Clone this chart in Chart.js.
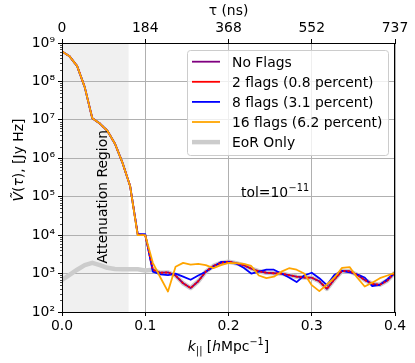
<!DOCTYPE html>
<html>
<head>
<meta charset="utf-8">
<script src="https://cdn.jsdelivr.net/npm/chart.js@4.4.1/dist/chart.umd.min.js"></script>
<style>
  html, body { margin: 0; padding: 0; background: #fff; }
  #wrap { width: 415px; height: 363px; }
</style>
</head>
<body>
<div id="wrap"><canvas id="chartDelay" width="415" height="363"></canvas></div>
<script>
'use strict';

// k_parallel sample points [h/Mpc]
var kPar = [0, 0.0091, 0.0182, 0.0273, 0.0364, 0.0455, 0.0545, 0.0636, 0.0727, 0.0818,
  0.0909, 0.1, 0.1091, 0.1182, 0.1273, 0.1364, 0.1455, 0.1545, 0.1636, 0.1727,
  0.1818, 0.1909, 0.2, 0.2091, 0.2182, 0.2273, 0.2364, 0.2455, 0.2545, 0.2636,
  0.2727, 0.2818, 0.2909, 0.3, 0.3091, 0.3182, 0.3273, 0.3364, 0.3455, 0.3545,
  0.3636, 0.3727, 0.3818, 0.3909, 0.4];

var kTicks = [0, 0.1, 0.2, 0.3, 0.4];
var kTickLabels = ['0.0', '0.1', '0.2', '0.3', '0.4'];
var tauTickLabels = ['0', '184', '368', '552', '737'];
var yTicks = [1e2, 1e3, 1e4, 1e5, 1e6, 1e7, 1e8, 1e9];
var yTickLabels = ['10²', '10³', '10⁴', '10⁵', '10⁶', '10⁷', '10⁸', '10⁹'];

var noFlags = [6.0e8, 4.5e8, 2.5e8, 7.1e7, 1.1e7, 8.0e6, 5.2e6, 2.4e6, 7.6e5, 1.9e5,
  1.05e4, 1.0e4, 1260, 1050, 1070, 890, 560, 420, 630, 1120,
  1580, 1900, 2040, 1860, 1660, 1350, 1150, 1050, 1020, 1000,
  910, 830, 790, 780, 630, 400, 710, 1170, 1150, 930,
  680, 540, 510, 660, 1070];
var flags2 = [6.0e8, 4.5e8, 2.5e8, 7.1e7, 1.1e7, 8.0e6, 5.2e6, 2.4e6, 7.6e5, 1.9e5,
  1.05e4, 1.0e4, 1260, 1050, 1070, 890, 560, 420, 630, 1120,
  1580, 1900, 2040, 1860, 1660, 1350, 1150, 1050, 1020, 1000,
  910, 830, 790, 780, 630, 400, 710, 1170, 1150, 930,
  680, 540, 510, 660, 1070];
var flags8 = [6.0e8, 4.5e8, 2.5e8, 7.1e7, 1.1e7, 8.0e6, 5.2e6, 2.4e6, 7.6e5, 1.9e5,
  1.08e4, 1.06e4, 1120, 950, 910, 1000, 830, 690, 890, 1120,
  1480, 2000, 2000, 1820, 1410, 1000, 1120, 1260, 1260, 1000,
  790, 600, 890, 1050, 760, 500, 930, 1170, 1070, 950,
  790, 470, 510, 710, 1050];
var flags16 = [6.0e8, 4.5e8, 2.5e8, 7.1e7, 1.1e7, 8.0e6, 5.2e6, 2.4e6, 7.6e5, 1.9e5,
  1.0e4, 1.0e4, 1900, 790, 340, 1510, 1900, 1700, 1780, 1660,
  1380, 1660, 1900, 1860, 1780, 1580, 890, 760, 830, 1120,
  1380, 1260, 1000, 500, 350, 520, 790, 1410, 1480, 790,
  460, 580, 760, 890, 1050];
var eorOnly = [680, 930, 1260, 1660, 1900, 1660, 1410, 1320, 1290, 1290,
  1290, 1200, 1260, 1050, 1070, 890, 560, 420, 630, 1120,
  1580, 1900, 2040, 1860, 1660, 1350, 1150, 1050, 1020, 1000,
  910, 830, 790, 780, 630, 400, 710, 1170, 1150, 930,
  680, 540, 510, 660, 1070];

var attenuationEdge = 0.08;

var FS = 13.9;
var FAM = '"DejaVu Sans"';
var fNorm = FS + 'px ' + FAM;
var fItal = 'italic ' + FS + 'px ' + FAM;
var fSmall = (FS * 0.7).toFixed(1) + 'px ' + FAM;

Chart.defaults.font.family = "'DejaVu Sans', sans-serif";
Chart.defaults.font.size = FS;
Chart.defaults.color = '#000';

function points(vals) {
  return kPar.map(function (k, i) { return { x: k, y: vals[i] }; });
}

function setTicks(list) {
  return function (scale) {
    scale.ticks = list.map(function (v) { return { value: v }; });
  };
}

function drawRuns(ctx, runs, cx, baseY) {
  var w = 0;
  runs.forEach(function (r) { ctx.font = r.f; w += ctx.measureText(r.t).width; });
  var x = cx - w / 2;
  runs.forEach(function (r) {
    ctx.font = r.f;
    ctx.fillText(r.t, x, baseY + (r.dy || 0));
    x += ctx.measureText(r.t).width;
  });
}

var decor = {
  id: 'decor',
  beforeDraw: function (chart) {
    var a = chart.chartArea;
    var ctx = chart.ctx;
    var xr = chart.scales.x.getPixelForValue(attenuationEdge);
    ctx.save();
    ctx.fillStyle = '#f0f0f0';
    ctx.fillRect(a.left, a.top, xr - a.left, a.bottom - a.top);
    ctx.restore();
  },
  afterDatasetsDraw: function (chart) {
    var a = chart.chartArea;
    var ctx = chart.ctx;
    var xs = chart.scales.x;
    var ys = chart.scales.y;
    ctx.save();

    // frame
    ctx.strokeStyle = '#000';
    ctx.lineWidth = 1;
    ctx.strokeRect(a.left + 0.5, a.top + 0.5, a.right - a.left - 1, a.bottom - a.top);

    // minor log ticks on the left spine
    ctx.lineWidth = 0.7;
    for (var d = 2; d < 9; d++) {
      for (var m = 2; m <= 9; m++) {
        var py = Math.round(ys.getPixelForValue(m * Math.pow(10, d))) + 0.5;
        ctx.beginPath();
        ctx.moveTo(a.left, py);
        ctx.lineTo(a.left - 2, py);
        ctx.stroke();
      }
    }

    ctx.fillStyle = '#000';
    ctx.textBaseline = 'alphabetic';

    // attenuation label
    ctx.save();
    ctx.translate(xs.getPixelForValue(0.048) + 5, ys.getPixelForValue(1e5));
    ctx.rotate(-Math.PI / 2);
    ctx.font = fNorm;
    ctx.textAlign = 'center';
    ctx.fillText('Attenuation Region', 0, 0);
    ctx.restore();

    // tolerance note
    ctx.textAlign = 'left';
    var tx = xs.getPixelForValue(0.215);
    var ty = ys.getPixelForValue(1e5) + 0.5;
    ctx.font = fNorm;
    ctx.fillText('tol=10', tx, ty);
    var tw = ctx.measureText('tol=10').width;
    ctx.font = fSmall;
    ctx.fillText('−11', tx + tw + 0.5, ty - 6.5);

    // legend
    var lx = 187, ly = 50, lw = 201, lh = 105;
    ctx.beginPath();
    ctx.roundRect(lx + 0.5, ly + 0.5, lw, lh, 3);
    ctx.fillStyle = 'rgba(255,255,255,0.8)';
    ctx.fill();
    ctx.strokeStyle = '#cccccc';
    ctx.lineWidth = 1;
    ctx.stroke();
    var legendOrder = [0, 1, 2, 3, 4];
    legendOrder.forEach(function (di, row) {
      var ds = chart.data.datasets[di];
      var ry = 61.7 + row * 20.1;
      ctx.beginPath();
      ctx.moveTo(192, ry);
      ctx.lineTo(220, ry);
      ctx.strokeStyle = ds.borderColor;
      ctx.lineWidth = ds.borderWidth;
      ctx.stroke();
      ctx.fillStyle = '#000';
      ctx.font = fNorm;
      ctx.fillText(ds.label, 232, ry + 5);
    });

    // x title
    ctx.fillStyle = '#000';
    drawRuns(ctx, [
      { t: 'k', f: fItal },
      { t: '||', f: fSmall, dy: 3 },
      { t: ' [', f: fNorm },
      { t: 'h', f: fItal },
      { t: 'Mpc', f: fNorm },
      { t: '−1', f: fSmall, dy: -6 },
      { t: ']', f: fNorm }
    ], (a.left + a.right) / 2, 351);

    // y title
    ctx.save();
    ctx.translate(22.5, 160);
    ctx.rotate(-Math.PI / 2);
    drawRuns(ctx, [
      { t: 'Ṽ', f: fItal },
      { t: '(', f: fNorm },
      { t: 'τ', f: fItal },
      { t: '), [Jy Hz]', f: fNorm }
    ], 0, 0);
    ctx.restore();

    ctx.restore();
  }
};

var lineBase = { pointRadius: 0, fill: false, tension: 0, borderJoinStyle: 'round' };

new Chart(document.getElementById('chartDelay').getContext('2d'), {
  type: 'line',
  data: {
    datasets: [
      Object.assign({}, lineBase, { label: 'No Flags', data: points(noFlags), borderColor: 'purple', borderWidth: 1.8, order: 3 }),
      Object.assign({}, lineBase, { label: '2 flags (0.8 percent)', data: points(flags2), borderColor: 'red', borderWidth: 1.8, borderDash: [2, 2], order: 1 }),
      Object.assign({}, lineBase, { label: '8 flags (3.1 percent)', data: points(flags8), borderColor: 'blue', borderWidth: 1.8, order: 2 }),
      Object.assign({}, lineBase, { label: '16 flags (6.2 percent)', data: points(flags16), borderColor: 'orange', borderWidth: 1.8, order: 0 }),
      Object.assign({}, lineBase, { label: 'EoR Only', data: points(eorOnly), borderColor: '#cccccc', borderWidth: 4.5, order: 4 })
    ]
  },
  options: {
    responsive: false,
    animation: false,
    devicePixelRatio: 1,
    layout: { padding: { left: 0, right: 20, top: 0, bottom: 0 } },
    plugins: { legend: { display: false }, tooltip: { enabled: false } },
    scales: {
      x: {
        type: 'linear', position: 'bottom', min: 0, max: 0.4,
        afterBuildTicks: setTicks(kTicks),
        afterFit: function (s) { s.height = 51; },
        ticks: { callback: function (v, i) { return kTickLabels[i]; }, maxRotation: 0, autoSkip: false, padding: 2 },
        grid: { color: '#b0b0b0', lineWidth: 1, tickColor: '#000', tickLength: 4 },
        border: { color: '#000', width: 1 }
      },
      x2: {
        type: 'linear', position: 'top', min: 0, max: 0.4,
        afterBuildTicks: setTicks(kTicks),
        afterFit: function (s) { s.height = 43; },
        ticks: { callback: function (v, i) { return tauTickLabels[i]; }, maxRotation: 0, autoSkip: false, padding: 2 },
        grid: { drawOnChartArea: false, tickColor: '#000', tickLength: 4 },
        border: { color: '#000', width: 1 },
        title: { display: true, text: 'τ (ns)', padding: { top: 3, bottom: 0 } }
      },
      y: {
        type: 'logarithmic', position: 'left', min: 1e2, max: 1e9,
        afterBuildTicks: setTicks(yTicks),
        afterFit: function (s) { s.width = 62; },
        ticks: { callback: function (v, i) { return yTickLabels[i]; }, autoSkip: false, padding: 3 },
        grid: { color: '#b0b0b0', lineWidth: 1, tickColor: '#000', tickLength: 4 },
        border: { color: '#000', width: 1 }
      }
    }
  },
  plugins: [decor]
});
</script>
</body>
</html>
